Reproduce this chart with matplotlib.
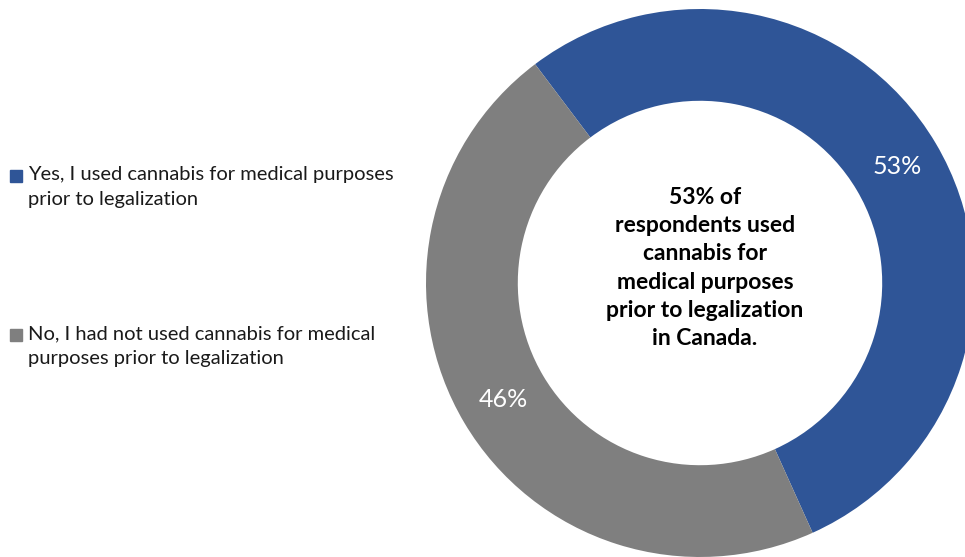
import matplotlib
matplotlib.use("Agg")
import matplotlib.pyplot as plt
from matplotlib.patches import Rectangle
import numpy as np

plt.rcParams['font.family'] = ['Lato', 'DejaVu Sans']

# --- data ---
categories = [
    "Yes, I used cannabis for medical purposes\nprior to legalization",
    "No, I had not used cannabis for medical\npurposes prior to legalization",
]
shares = [53, 46]
share_labels = ["53%", "46%"]
colors = ["#2F5597", "#7F7F7F"]
center_note = ("53% of\nrespondents used\ncannabis for\nmedical purposes\n"
               "prior to legalization\nin Canada.")

W, H = 965, 557
fig = plt.figure(figsize=(W / 100, H / 100), dpi=100)

# donut: centre (700, 283) px from top-left, radius 274 px
cx, cy, r = 700, H - 283, 274
ax = fig.add_axes([(cx - r) / W, (cy - r) / H, 2 * r / W, 2 * r / H])
wedges, _ = ax.pie(shares, colors=colors, startangle=127, counterclock=False,
                   radius=1, wedgeprops=dict(width=0.335, linewidth=0))
ax.set_xlim(-1, 1)
ax.set_ylim(-1, 1)
ax.set_aspect('equal')
ax.axis('off')

for w, lab in zip(wedges, share_labels):
    mid = np.deg2rad((w.theta1 + w.theta2) / 2)
    ax.text(0.835 * np.cos(mid), 0.835 * np.sin(mid), lab, color='white',
            fontsize=18, ha='center', va='center')

fig.text(705 / W, 1 - 268 / H, center_note, ha='center', va='center',
         fontsize=16.5, fontweight='bold', linespacing=1.42, color='black')

# legend drawn by hand so the square sits on the first line
legend_y = [176, 335]
for lab, col, y in zip(categories, colors, legend_y):
    fig.patches.append(Rectangle((10 / W, 1 - (y + 6) / H), 12 / W, 12 / H,
                                 transform=fig.transFigure, color=col))
    fig.text(28 / W, 1 - (y - 10) / H, lab, ha='left', va='top',
             fontsize=14.5, linespacing=1.55, color='#1a1a1a')

fig.savefig("out.png", dpi=100)
